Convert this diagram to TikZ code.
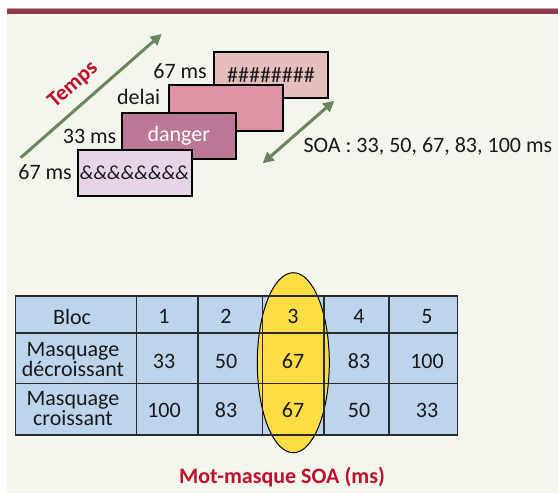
\documentclass[tikz,border=0pt]{standalone}
\usepackage{fontspec}
\setmainfont{Carlito}
\usetikzlibrary{arrows.meta,shapes.geometric}
\definecolor{bg}{HTML}{F3F6EC}
\definecolor{topline}{HTML}{8E3F4E}
\definecolor{boxA}{HTML}{E6BDBD}
\definecolor{boxB}{HTML}{DF93A5}
\definecolor{boxC}{HTML}{BC7696}
\definecolor{boxD}{HTML}{E6D4E7}
\definecolor{tblue}{HTML}{BDD5EC}
\definecolor{tyellow}{HTML}{FFDD44}
\definecolor{agreen}{HTML}{6B8560}
\definecolor{tred}{HTML}{C0102C}
\definecolor{gridc}{HTML}{2A2A2A}
\begin{document}
\begin{tikzpicture}[x=1pt,y=-1pt,
  every node/.style={font=\fontsize{22}{20}\selectfont, inner sep=0pt, text=black!90},
  stim/.style={draw=black, line width=2pt, minimum width=114pt, minimum height=45.5pt},
  lbl/.style={anchor=base east},
  arr/.style={draw=agreen, line width=3pt, -{Triangle[length=11pt,width=11pt]}},
  darr/.style={draw=agreen, line width=3pt, {Triangle[length=11pt,width=11pt]}-{Triangle[length=11pt,width=11pt]}},
  redbold/.style={text=tred, font=\fontsize{22}{22}\selectfont\bfseries},
  cell/.style={align=center},
  grid/.style={draw=gridc, line width=1.5pt}
]
\useasboundingbox (0,0) rectangle (558,493);
\fill[white] (0,0) rectangle (558,493);
\fill[bg] (7,14) rectangle (558,493);
\fill[topline!50] (7,8) rectangle (558,9);
\fill[topline] (7,9) rectangle (558,14);

% stimulus boxes (back to front)
\node[stim, fill=boxA] (bA) at (271,75) {\#\#\#\#\#\#\#\#};
\node[stim, fill=boxB] (bB) at (225.8,107.8) {};
\node[stim, fill=boxC, text=white] (bC) at (178.8,136.2) {danger};
\node[stim, fill=boxD] (bD) at (134.5,173) {\itshape\fontsize{20}{20}\selectfont \&\&\&\&\&\&\&\&};

\node[lbl] (lA) at (207,78) {67 ms};
\node[lbl] (lB) at (160.5,104) {delai};
\node[lbl] (lC) at (116.5,143) {33 ms};
\node[lbl] (lD) at (72,179) {67 ms};

% time arrow
\coordinate (tS) at (20.7,157.7);
\coordinate (tE) at (161.7,34);
\draw[arr] (tS) -- (tE);
\node[redbold, rotate=41.3] (temps) at (73.3,85) {Temps};

% SOA arrow
\coordinate (sS) at (262.7,163.3);
\coordinate (sE) at (334.3,100.7);
\draw[darr] (sS) -- (sE);
\node[anchor=base west] (soa) at (303.3,152) {SOA : 33, 50, 67, 83, 100 ms};

% table
\fill[tblue] (15.5,296) rectangle (457.7,435);
\node[draw=black, line width=1pt, fill=tyellow, ellipse, minimum width=72pt, minimum height=180pt] (ell) at (293.3,362.7) {};
\draw[grid] (15.5,296) rectangle (457.7,435);
\draw[grid] (15.5,333) -- (457.7,333);
\draw[grid] (15.5,383.5) -- (457.7,383.5);
\foreach \x in {136.3,198,262.5,324,389} {\draw[grid] (\x,296) -- (\x,435);}

\node[cell] (h0) at (72,316.5) {Bloc};
\node[cell] (r1) at (73,359.5) {Masquage\\décroissant};
\node[cell] (r2) at (73,409) {Masquage\\croissant};
\foreach \x/\a/\b/\c/\n in {164/1/33/100/1, 226/2/50/83/2, 293/3/67/67/3, 359/4/83/50/4, 427/5/100/33/5} {
  \node (h\n) at (\x,316.5) {\a};
  \node (d\n) at (\x,361) {\b};
  \node (c\n) at (\x,410) {\c};
}
\node[redbold] (title) at (282,477) {Mot-masque SOA (ms)};
\end{tikzpicture}
\end{document}
